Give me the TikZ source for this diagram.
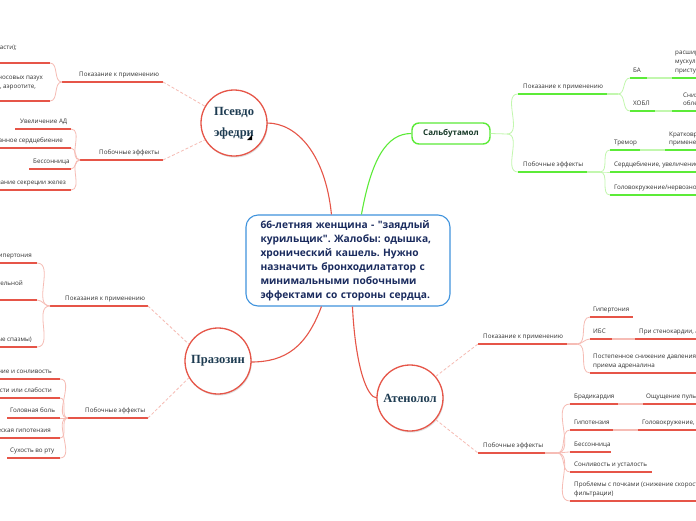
\documentclass[tikz,border=0pt]{standalone}
\usepackage{fontspec}
\setmainfont{Open Sans}[Ligatures=TeXOff]
\newfontfamily\serifb{Liberation Serif}
\usetikzlibrary{calc,shadows}
\frenchspacing
\definecolor{rd}{HTML}{E65548}
\definecolor{rdl}{HTML}{F6BCB5}
\definecolor{gn}{HTML}{5CEB38}
\definecolor{gnl}{HTML}{C2F7AE}
\definecolor{navy}{HTML}{1A2B5E}
\definecolor{slate}{HTML}{1E3C52}
\definecolor{bl}{HTML}{3F93DD}
\definecolor{ink}{HTML}{333333}
\definecolor{sgreen}{HTML}{173A28}
\tikzset{
  lbl/.style={inner sep=0pt, anchor=base west, font=\fontsize{6.25}{9}\selectfont, text=ink},
  lble/.style={lbl, anchor=base east},
  ur/.style={draw=rd, line width=1.6pt},
  urL/.style={draw=rdl, line width=1.6pt},
  ug/.style={draw=gn, line width=1.6pt},
  ugL/.style={draw=gnl, line width=1.6pt},
  cr/.style={draw=rdl, line width=0.8pt},
  cg/.style={draw=gnl, line width=0.8pt},
  dsh/.style={draw=rdl, line width=0.8pt, dash pattern=on 3pt off 2pt},
  drug/.style={circle, draw=rd, line width=1.3pt, fill=white, minimum size=66pt, inner sep=0pt,
    text=slate, font=\serifb\bfseries\fontsize{12.5}{21}\selectfont, align=center,
    drop shadow={shadow xshift=0.8pt, shadow yshift=-1.5pt, opacity=0.25}},
  ctrbox/.style={draw=bl, line width=1.1pt, rounded corners=12pt, fill=white,
    text width=175pt, inner xsep=14.5pt, minimum height=91pt, align=left, text=navy,
    font=\bfseries\fontsize{10.2}{14}\selectfont},
  slbbox/.style={draw=gn, line width=1.4pt, rounded corners=7pt, fill=white,
    minimum width=78pt, minimum height=21pt, inner sep=0pt, text=sgreen,
    font=\bfseries\fontsize{8}{10}\selectfont},
  main/.style={draw=rd, line width=1.1pt},
  maing/.style={draw=gn, line width=1.1pt},
}
\begin{document}
\begin{tikzpicture}[x=1pt,y=-1pt]
\useasboundingbox (0,0) rectangle (696,520);
\fill[white] (0,0) rectangle (696,520);
\clip (0,0) rectangle (696,520);

% ---------- nodes
\node[ctrbox] (ctr) at (348,260.5) {66-летняя женщина - "заядлый\\курильщик". Жалобы: одышка,\\хронический кашель. Нужно\\назначить бронходилататор с\\минимальными побочными\\эффектами со стороны сердца.};
\node[slbbox] (slb) at (451,133.5) {Сальбутамол};

% ---------- main connectors
\coordinate (m1) at ($(ctr.north west)+(86,0)$);
\coordinate (m2) at ($(ctr.north west)+(116,0)$);
\coordinate (m3) at ($(ctr.south west)+(76,0)$);
\coordinate (m4) at ($(ctr.south west)+(107,0)$);
\draw[main] (m1) .. controls +(-6,-60) and +(30,0) .. (234+33,123);
\draw[maing] (m2) .. controls +(10,-55) and +(-25,0) .. (slb.west);
\draw[main] (m3) .. controls +(-15,40) and +(35,0) .. (218+33,362);
\draw[main] (m4) .. controls +(3,60) and +(-10,0) .. (410-33,398);

\node[drug] (psv) at (234,123) {Псевдо\\эфедри};
\fill[black] (247,140) -- (252,140) -- (252,135) -- cycle;
\node[drug] (prz) at (218,361) {Празозин};
\node[drug] (atn) at (410,398) {Атенолол};

% ================= Псевдоэфедрин
\node[lbl] (pa) at (79,76.5) {Показание к применению};
\coordinate (paL) at (62,82); \coordinate (paR) at (163,82);
\draw[ur] (paL) -- (paR);
\draw[dsh] (paR) -- (psv.150);
\coordinate (pa1) at (50,63); \coordinate (pa2) at (50,101);
\draw[cr] (paL) to[out=180,in=0] (pa1);
\draw[cr] (paL) to[out=180,in=0] (pa2);
\draw[ur] (pa1) -- (-10,63);
\draw[ur] (pa2) -- (-10,101);
\node[lble] (pa1t) at (17,49.5) {Отёк слизистой в носовой области);};
\node[lble] (pa2t) at (43,79.5) {Заложенность носовых пазух};
\node[lble] (pa2u) at (36,88.5) {(при синусите, отите и т.д,  аэроотите,};

\node[lbl] (pb) at (99,154.5) {Побочные эффекты};
\coordinate (pbL) at (80,160); \coordinate (pbR) at (163,160);
\draw[ur] (pbL) -- (pbR);
\draw[dsh] (pbR) -- (psv.210);
\coordinate (pb1) at (71,129); \coordinate (pb2) at (71,148);
\coordinate (pb3) at (71,169); \coordinate (pb4) at (71,190);
\foreach \c in {pb1,pb2,pb3,pb4} \draw[cr] (pbL) to[out=180,in=0] (\c);
\draw[ur] (pb1) -- (15,129);
\draw[ur] (pb2) -- (-10,148);
\draw[ur] (pb3) -- (29,169);
\draw[ur] (pb4) -- (-10,190);
\node[lbl] (pb1t) at (20,123.5) {Увеличение АД};
\node[lble] (pb2t) at (63,142.5) {Форсированное сердцебиение};
\node[lbl] (pb3t) at (33,163.5) {Бессонница};
\node[lble] (pb4t) at (66,184.5) {Ингибирование секреции желез};

% ================= Празозин
\node[lbl] (za) at (65,300.5) {Показания к применению};
\coordinate (zaL) at (50,306); \coordinate (zaR) at (148,306);
\draw[ur] (zaL) -- (zaR);
\draw[dsh] (zaR) -- (prz.150);
\coordinate (za1) at (37,263); \coordinate (za2) at (37,300); \coordinate (za3) at (37,347);
\foreach \c in {za1,za2,za3} \draw[cr] (zaL) to[out=180,in=0] (\c);
\draw[ur] (za1) -- (-10,263);
\draw[ur] (za2) -- (-10,300);
\draw[ur] (za3) -- (-10,347);
\node[lble] (za1t) at (32,257.5) {Артериальная гипертония};
\node[lble] (za2t) at (23,285.5) {Гиперплазия предстательной};
\node[lble] (za3t) at (32,341.5) {(периферические сосудистые спазмы)};

\node[lbl] (zb) at (85,412.5) {Побочные эффекты};
\coordinate (zbL) at (68,418); \coordinate (zbR) at (148,418);
\draw[ur] (zbL) -- (zbR);
\draw[dsh] (zbR) -- (prz.210);
\coordinate (zb1) at (60,379); \coordinate (zb2) at (60,398); \coordinate (zb3) at (60,418);
\coordinate (zb4) at (60,438); \coordinate (zb5) at (60,458);
\foreach \c in {zb1,zb2,zb3,zb4,zb5} \draw[cr] (zbL) to[out=180,in=0] (\c);
\draw[ur] (zb1) -- (-10,379);
\draw[ur] (zb2) -- (-10,398);
\draw[ur] (zb3) -- (7,418);
\draw[ur] (zb4) -- (-10,438);
\draw[ur] (zb5) -- (7,458);
\node[lble] (zb1t) at (52,373.5) {Головокружение и сонливость};
\node[lble] (zb2t) at (52,392.5) {Чувство усталости или слабости};
\node[lbl] (zb3t) at (10,412.5) {Головная боль};
\node[lble] (zb4t) at (51,432.5) {Ортостатическая гипотензия};
\node[lbl] (zb5t) at (10,452.5) {Сухость во рту};

% ================= Сальбутамол
\coordinate (sJ) at (507,134);
\draw[cg] (slb.east) -- (sJ);
\node[lbl] (sa) at (523,88.5) {Показание к применению};
\coordinate (saL) at (518,94); \coordinate (saM) at (607,94); \coordinate (saR) at (618,94);
\draw[cg] (sJ) to[out=0,in=180] (saL);
\draw[ug] (saL) -- (saM); \draw[ugL] (saM) -- (saR);
\coordinate (sa1) at (630,78); \coordinate (sa2) at (630,111);
\draw[cg] (saR) to[out=0,in=180] (sa1);
\draw[cg] (saR) to[out=0,in=180] (sa2);
\node[lbl] (sa1t) at (633,72.5) {БА};
\draw[ug] (sa1) -- (647,78); \draw[ugL] (647,78) -- (672,78); \draw[ug] (672,78) -- (706,78);
\node[lbl] (sa1c) at (675,54.5) {расширяет бронхи,};
\node[lbl] (sa1d) at (675,63.5) {мускулатуру бронхов};
\node[lbl] (sa1e) at (675,72.5) {приступы удушья};
\node[lbl] (sa2t) at (633,105.5) {ХОБЛ};
\draw[ug] (sa2) -- (655,111); \draw[ugL] (655,111) -- (672,111); \draw[ug] (672,111) -- (706,111);
\node[lbl] (sa2c) at (683,97) {Снижение одышки};
\node[lbl] (sa2d) at (683,105.5) {облегчение дыхания};

\node[lbl] (sb) at (523,166.5) {Побочные эффекты};
\coordinate (sbL) at (518,172); \coordinate (sbM) at (587,172); \coordinate (sbR) at (600,172);
\draw[cg] (sJ) to[out=0,in=180] (sbL);
\draw[ug] (sbL) -- (sbM); \draw[ugL] (sbM) -- (sbR);
\coordinate (sb1) at (610,150); \coordinate (sb2) at (610,172); \coordinate (sb3) at (610,195);
\foreach \c in {sb1,sb2,sb3} \draw[cg] (sbR) to[out=0,in=180] (\c);
\node[lbl] (sb1t) at (614,144.5) {Тремор};
\draw[ug] (sb1) -- (640,150); \draw[ugL] (640,150) -- (665,150); \draw[ug] (665,150) -- (706,150);
\node[lbl] (sb1c) at (669,136) {Кратковременный, при};
\node[lbl] (sb1d) at (669,144.5) {применении высоких доз};
\node[lbl] (sb2t) at (614,166.5) {Сердцебиение, увеличение ЧСС};
\draw[ug] (sb2) -- (706,172);
\node[lbl] (sb3t) at (614,189.5) {Головокружение/нервозность};
\draw[ug] (sb3) -- (706,195);

% ================= Атенолол
\node[lbl] (aa) at (483,338.5) {Показание к применению};
\coordinate (aaL) at (478,344); \coordinate (aaM) at (567,344); \coordinate (aaR) at (577,344);
\draw[ur] (aaL) -- (aaM); \draw[urL] (aaM) -- (aaR);
\draw[dsh] (atn.40) -- (aaL);
\coordinate (aa1) at (590,317); \coordinate (aa2) at (590,339); \coordinate (aa3) at (590,373);
\foreach \c in {aa1,aa2,aa3} \draw[cr] (aaR) to[out=0,in=180] (\c);
\node[lbl] (aa1t) at (593,311.5) {Гипертония};
\draw[ur] (aa1) -- (633,317);
\node[lbl] (aa2t) at (593,333.5) {ИБС};
\draw[ur] (aa2) -- (612,339); \draw[urL] (612,339) -- (635,339); \draw[ur] (635,339) -- (706,339);
\node[lbl] (aa2c) at (639,333.5) {При стенокардии, аритмии};
\node[lbl] (aa3t) at (593,358.5) {Постепенное снижение давления, без резкого};
\node[lbl] (aa3u) at (593,367.5) {приема адреналина};
\draw[ur] (aa3) -- (706,373);

\node[lbl] (ab) at (483,447.5) {Побочные эффекты};
\coordinate (abL) at (478,453); \coordinate (abM) at (545,453); \coordinate (abR) at (557,453);
\draw[ur] (abL) -- (abM); \draw[urL] (abM) -- (abR);
\draw[dsh] (atn.320) -- (abL);
\coordinate (ab1) at (570,404); \coordinate (ab2) at (570,430); \coordinate (ab3) at (570,452);
\coordinate (ab4) at (570,472); \coordinate (ab5) at (570,501);
\foreach \c in {ab1,ab2,ab3,ab4,ab5} \draw[cr] (abR) to[out=0,in=180] (\c);
\node[lbl] (ab1t) at (574,398.5) {Брадикардия};
\draw[ur] (ab1) -- (618,404); \draw[urL] (618,404) -- (643,404); \draw[ur] (643,404) -- (706,404);
\node[lbl] (ab1c) at (646,398.5) {Ощущение пульсации};
\node[lbl] (ab2t) at (574,424.5) {Гипотензия};
\draw[ur] (ab2) -- (613,430); \draw[urL] (613,430) -- (638,430); \draw[ur] (638,430) -- (706,430);
\node[lbl] (ab2c) at (642,424.5) {Головокружение, слабость};
\node[lbl] (ab3t) at (574,446.5) {Бессонница};
\draw[ur] (ab3) -- (611,452);
\node[lbl] (ab4t) at (574,466.5) {Сонливость и усталость};
\draw[ur] (ab4) -- (652,472);
\node[lbl] (ab5t) at (574,486.5) {Проблемы с почками (снижение скорости клубочковой};
\node[lbl] (ab5u) at (574,495.5) {фильтрации)};
\draw[ur] (ab5) -- (706,501);
\end{tikzpicture}
\end{document}
